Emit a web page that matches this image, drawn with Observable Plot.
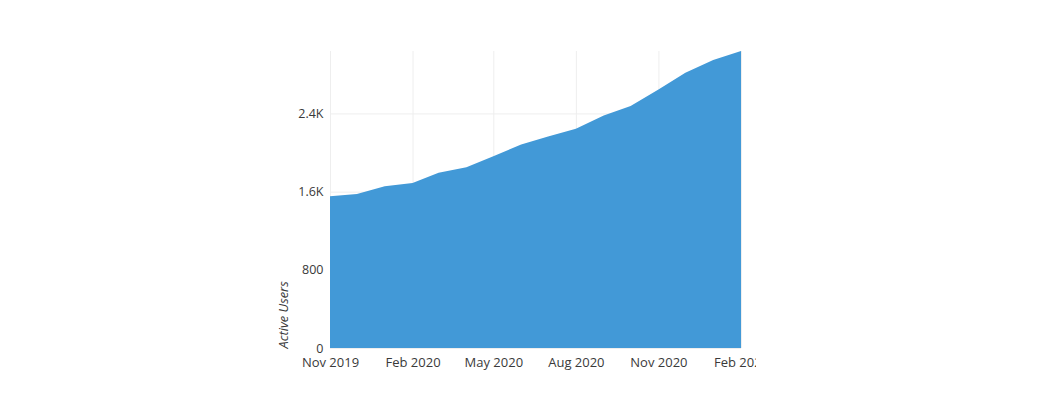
<!DOCTYPE html>
<html>
<head>
<meta charset="utf-8">
<script src="https://cdn.jsdelivr.net/npm/d3@7"></script>
<script src="https://cdn.jsdelivr.net/npm/@observablehq/plot@0.6"></script>
<style>
  html, body { margin: 0; padding: 0; background: #fff; }
  #chart { width: 1056px; height: 405px; }
  #chart svg { overflow: hidden; }
</style>
</head>
<body>
<div id="chart"></div>
<script>
const months = ["2019-11","2019-12","2020-01","2020-02","2020-03","2020-04","2020-05","2020-06","2020-07","2020-08","2020-09","2020-10","2020-11","2020-12","2021-01","2021-02"];
const activeUsers = [1552,1576,1654,1689,1792,1849,1962,2082,2164,2243,2379,2475,2646,2817,2946,3039];
const yTicks = [0, 800, 1600, 2400];
const yTickLabels = ["0", "800", "1.6K", "2.4K"];
const xTicks = ["2019-11","2020-02","2020-05","2020-08","2020-11","2021-02"];
const yLabel = "Active Users";

const parse = d3.utcParse("%Y-%m");
const data = months.map((m, i) => ({date: parse(m), value: activeUsers[i]}));
const xTickDates = xTicks.map(parse);
const fmt = d3.utcFormat("%b %Y");

const chart = Plot.plot({
  width: 756,
  height: 405,
  marginLeft: 330,
  marginRight: 15,
  marginTop: 51,
  marginBottom: 57,
  style: {fontFamily: "'Open Sans', sans-serif", fontSize: "13px", color: "#3a3a3a", background: "#fff"},
  x: {type: "utc", domain: [data[0].date, data[data.length - 1].date], label: null},
  y: {domain: [0, d3.max(activeUsers)], label: null},
  marks: [
    Plot.gridX(xTickDates, {stroke: "#eee", strokeOpacity: 1}),
    Plot.gridY(yTicks, {stroke: "#eee", strokeOpacity: 1}),
    Plot.areaY(data, {x: "date", y: "value", fill: "#4299d7", curve: "linear"}),
    Plot.axisX({ticks: xTickDates, tickFormat: fmt, tickSize: 0, tickPadding: 9, fill: "#3a3a3a", fontSize: 13, label: null}),
    Plot.axisY({ticks: yTicks, tickFormat: v => yTickLabels[yTicks.indexOf(v)], tickSize: 0, tickPadding: 7, fill: "#3a3a3a", fontSize: 12.5, label: null}),
    Plot.text([yLabel], {frameAnchor: "bottom-left", text: d => d, rotate: -90, textAnchor: "start", dx: -43, dy: 0, fill: "#3a3a3a", fontSize: 12.8, fontStyle: "italic"})
  ]
});
document.getElementById("chart").appendChild(chart);
</script>
</body>
</html>
